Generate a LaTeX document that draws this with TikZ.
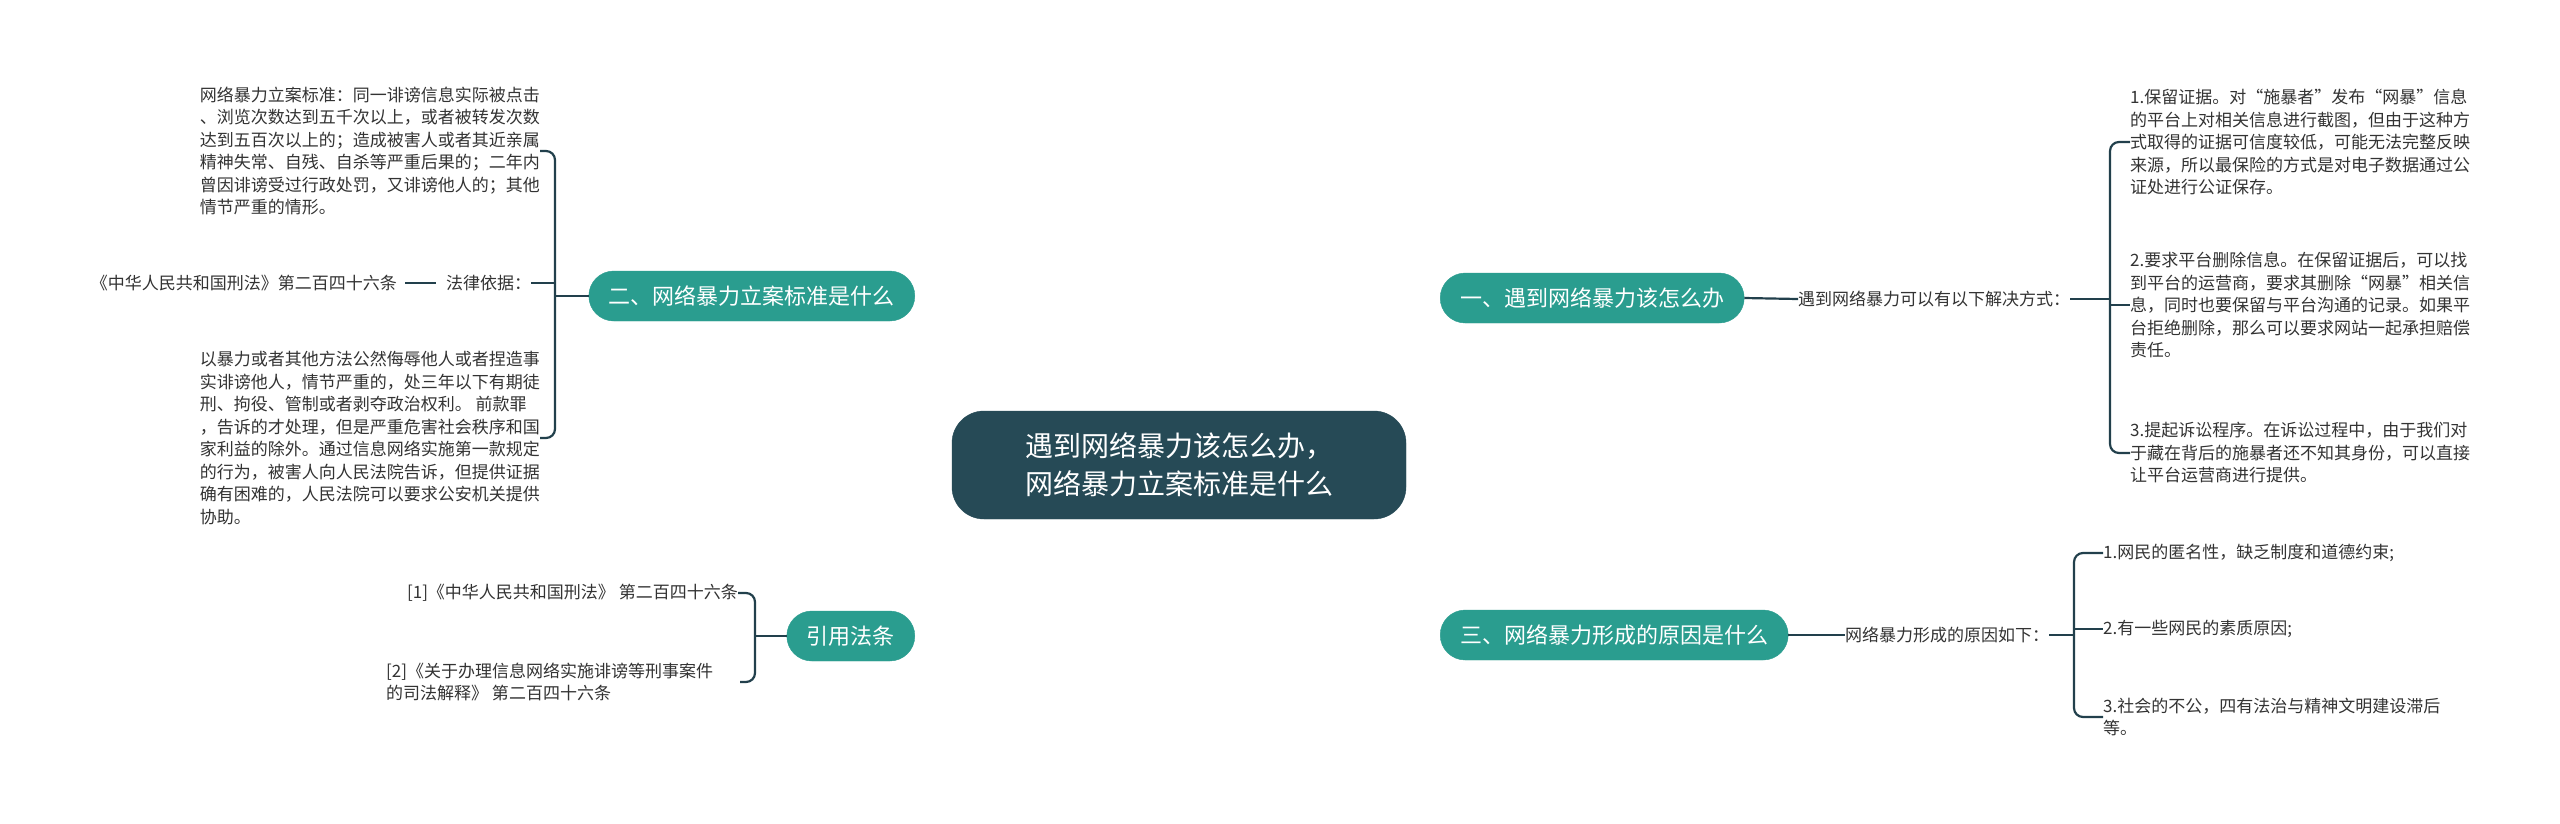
\documentclass[tikz,border=0pt]{standalone}
\usepackage{fontspec}
\setmainfont{Noto Sans CJK SC}
\usetikzlibrary{backgrounds}
\definecolor{teal1}{HTML}{2A9D8F}
\definecolor{dark1}{HTML}{264A56}
\definecolor{edge1}{HTML}{22404C}
\definecolor{txt1}{HTML}{333333}
\begin{document}
\begin{tikzpicture}[x=1pt,y=-1pt,
  centerbox/.style={fill=dark1,draw=dark1,rounded corners=32pt,text=white,font=\fontsize{28}{38}\selectfont,align=center,minimum width=454pt,minimum height=108pt},
  branchbox/.style={fill=teal1,draw=teal1,rounded corners=25pt,text=white,font=\fontsize{22}{26}\selectfont,minimum height=50pt,inner xsep=20pt},
  leaf/.style={text=txt1,font=\fontsize{17}{22.5}\selectfont,align=left,inner sep=0pt},
  conn/.style={draw=edge1,line width=2.2pt},
  brk/.style={draw=edge1,line width=2.2pt,rounded corners=9pt}]
\useasboundingbox (0,0) rectangle (2560,823);
\fill[white] (0,0) rectangle (2560,823);
% central
\node[centerbox] (c) at (1179,465) {遇到网络暴力该怎么办，\\网络暴力立案标准是什么};
% branches
\node[branchbox,anchor=west] (b1) at (1440,298) {一、遇到网络暴力该怎么办};
\node[branchbox,anchor=east] (b2) at (915,296) {二、网络暴力立案标准是什么};
\node[branchbox,anchor=west] (b3) at (1440,635) {三、网络暴力形成的原因是什么};
\node[branchbox,anchor=east] (b4) at (915,636) {引用法条};
% branch 1
\node[leaf,anchor=west] (l1) at (1798,299) {遇到网络暴力可以有以下解决方式：};
\node[leaf,anchor=west] (r11) at (2130,142) {1.保留证据。对“施暴者”发布“网暴”信息\\的平台上对相关信息进行截图，但由于这种方\\式取得的证据可信度较低，可能无法完整反映\\来源，所以最保险的方式是对电子数据通过公\\证处进行公证保存。};
\node[leaf,anchor=west] (r12) at (2130,305) {2.要求平台删除信息。在保留证据后，可以找\\到平台的运营商，要求其删除“网暴”相关信\\息，同时也要保留与平台沟通的记录。如果平\\台拒绝删除，那么可以要求网站一起承担赔偿\\责任。};
\node[leaf,anchor=west] (r13) at (2130,453) {3.提起诉讼程序。在诉讼过程中，由于我们对\\于藏在背后的施暴者还不知其身份，可以直接\\让平台运营商进行提供。};
% branch 3
\node[leaf,anchor=west] (l3) at (1845,635) {网络暴力形成的原因如下：};
\node[leaf,anchor=west] (r31) at (2103,553) {1.网民的匿名性，缺乏制度和道德约束;};
\node[leaf,anchor=west] (r32) at (2103,629) {2.有一些网民的素质原因;};
\node[leaf,anchor=west] (r33) at (2103,717) {3.社会的不公，四有法治与精神文明建设滞后\\等。};
% branch 2
\node[leaf,anchor=east] (l21) at (540,151) {网络暴力立案标准：同一诽谤信息实际被点击\\、浏览次数达到五千次以上，或者被转发次数\\达到五百次以上的；造成被害人或者其近亲属\\精神失常、自残、自杀等严重后果的；二年内\\曾因诽谤受过行政处罚，又诽谤他人的；其他\\情节严重的情形。};
\node[leaf,anchor=west] (l22) at (446,283) {法律依据：};
\node[leaf,anchor=east] (l22b) at (397,283) {《中华人民共和国刑法》第二百四十六条};
\node[leaf,anchor=east] (l23) at (540,438) {以暴力或者其他方法公然侮辱他人或者捏造事\\实诽谤他人，情节严重的，处三年以下有期徒\\刑、拘役、管制或者剥夺政治权利。 前款罪\\，告诉的才处理，但是严重危害社会秩序和国\\家利益的除外。通过信息网络实施第一款规定\\的行为，被害人向人民法院告诉，但提供证据\\确有困难的，人民法院可以要求公安机关提供\\协助。};
% branch 4
\node[leaf,anchor=east] (r41) at (738,593) {[1]《中华人民共和国刑法》 第二百四十六条};
\node[leaf,anchor=west] (r42) at (386,682) {[2]《关于办理信息网络实施诽谤等刑事案件\\的司法解释》 第二百四十六条};
\begin{scope}[on background layer]
\draw[conn] (1190,465) .. controls (1215,300) and (1330,298) .. (b1.west);
\draw[conn] (1190,465) .. controls (1215,635) and (1330,635) .. (b3.west);
\draw[conn] (1168,465) .. controls (1143,296) and (1030,296) .. (b2.east);
\draw[conn] (1168,465) .. controls (1143,636) and (1030,636) .. (b4.east);
\end{scope}
% branch 1 connectors
\draw[conn] (b1.east) -- (l1.west);
\draw[conn] (l1.east) -- (2110,299);
\draw[brk] (r11.west) -- (2110,142) -- (2110,453) -- (r13.west);
\draw[conn] (2110,305) -- (r12.west);
% branch 3
\draw[conn] (b3.east) -- (l3.west);
\draw[conn] (l3.east) -- (2074,635);
\draw[brk] (r31.west) -- (2074,553) -- (2074,717) -- (r33.west);
\draw[conn] (2074,629) -- (r32.west);
% branch 2
\draw[conn] (b2.west) -- (555,296);
\draw[brk] (l21.east) -- (555,151) -- (555,438) -- (l23.east);
\draw[conn] (555,283) -- (l22.east);
\draw[conn] (l22b.east)+(8,0) coordinate (k1) (l22.west)+(-10,0) coordinate (k2);
\draw[conn] (k1) -- (k2);
% branch 4
\draw[conn] (b4.west) -- (755,636);
\draw[brk] (r41.east) -- (755,593) -- (755,682) -- (r42.east -| 740,682) coordinate (k3);
\end{tikzpicture}
\end{document}
